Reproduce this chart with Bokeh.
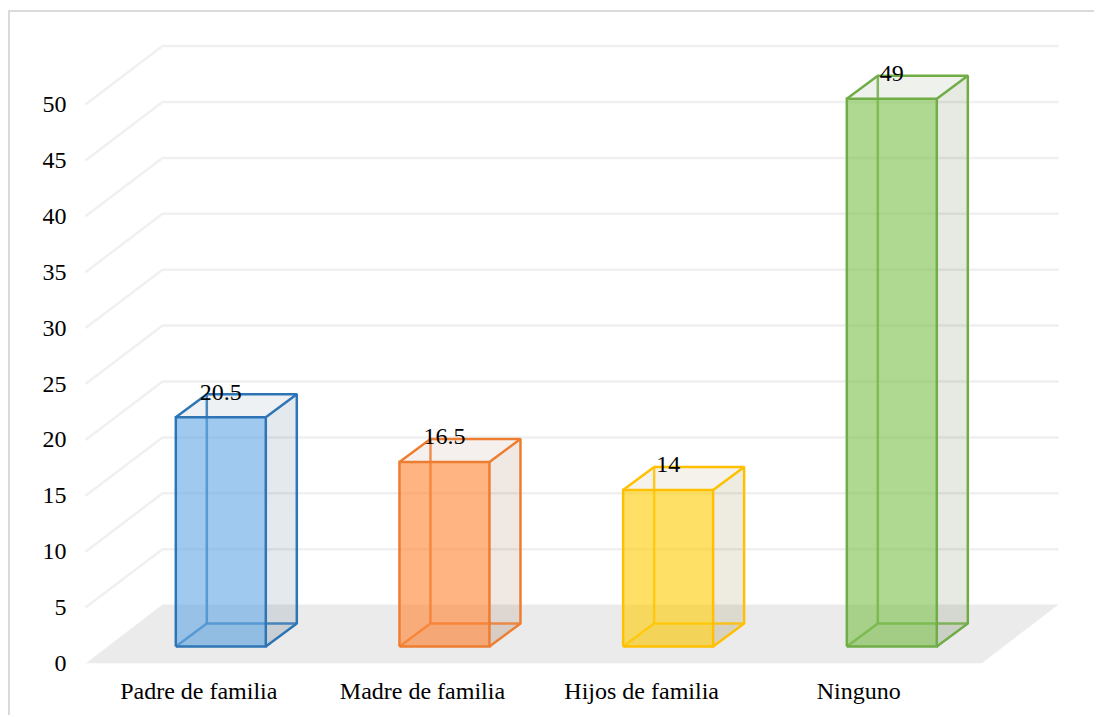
from bokeh.embed import file_html
from bokeh.resources import INLINE
from bokeh.plotting import figure
from bokeh.models import Range1d, FixedTicker, ColumnDataSource
from bokeh.core.properties import value as fixed

categories = ["Padre de familia", "Madre de familia", "Hijos de familia", "Ninguno"]
values = [20.5, 16.5, 14, 49]
value_labels = ["20.5", "16.5", "14", "49"]
label_positions = [0, 1, 1.98, 2.95]
y_ticks = [0, 5, 10, 15, 20, 25, 30, 35, 40, 45, 50]
edge_colors = ["#2E75B6", "#ED7D31", "#FFC000", "#70AD47"]
front_fills = ["#5FA5E3", "#FF822F", "#FFCB00", "#7ABE48"]
side_fills = ["#1E4869", "#823F16", "#715800", "#375016"]

# layout constants (pixels on the page)
PX_X = 223.67
PX_Y = 11.18
X0_PAGE = 198.3
CANVAS_X, CANVAS_Y = 10, 12
FRAME_L, FRAME_R, FRAME_T, FRAME_B = 70, 1096, 20, 663

# 3-D projection in data units
DX = 77 / PX_X          # full floor depth
DY = 59 / PX_Y
GRID_DY = 58.4 / PX_Y
FRONT_DX, FRONT_DY = 22 / PX_X, 17 / PX_Y
BOX_DX, BOX_DY = 31 / PX_X, 23 / PX_Y
BAR_W = 90 / PX_X
FLOOR_L = (85 - X0_PAGE) / PX_X
FLOOR_R = (981 - X0_PAGE) / PX_X

FONT = "Liberation Serif"
EDGE_W = 2.5

p = figure(
    width=1096 - CANVAS_X, height=717 - CANVAS_Y, output_backend="svg", toolbar_location=None,
    x_range=Range1d((FRAME_L - X0_PAGE) / PX_X, (FRAME_R - X0_PAGE) / PX_X),
    y_range=Range1d(0, (FRAME_B - FRAME_T) / PX_Y),
    min_border_left=FRAME_L - CANVAS_X, min_border_right=0,
    min_border_top=FRAME_T - CANVAS_Y, min_border_bottom=717 - FRAME_B,
    outline_line_color=None, background_fill_color="white",
)
p.styles = {"border-left": "2px solid #DADADA", "border-top": "2px solid #DADADA",
            "margin-left": "8px", "margin-top": "10px"}
p.grid.visible = False

# Floor
p.patch([FLOOR_L, FLOOR_L + DX, FLOOR_R + DX, FLOOR_R], [0, DY, DY, 0],
        fill_color="#EBEBEB", line_color=None)

# Gridlines: side wall + back wall
gx, gy = [], []
for t in y_ticks[1:]:
    gx.append([FLOOR_L, FLOOR_L + DX, FLOOR_R + DX])
    gy.append([t, t + GRID_DY, t + GRID_DY])
p.multi_line(gx, gy, line_color="#F0F0F0", line_width=2.5)

# Bars
for i, v in enumerate(values):
    xl = i - BAR_W / 2 + FRONT_DX
    xr = xl + BAR_W
    yb = FRONT_DY
    yt = yb + v
    ec, ff, sf = edge_colors[i], front_fills[i], side_fills[i]
    # right side
    p.patch([xr, xr + BOX_DX, xr + BOX_DX, xr], [yb, yb + BOX_DY, yt + BOX_DY, yt],
            fill_color=sf, fill_alpha=0.12, line_color=None)
    # bottom
    p.patch([xl, xl + BOX_DX, xr + BOX_DX, xr], [yb, yb + BOX_DY, yb + BOX_DY, yb],
            fill_color=sf, fill_alpha=0.06, line_color=None)
    # top
    p.patch([xl, xl + BOX_DX, xr + BOX_DX, xr], [yt, yt + BOX_DY, yt + BOX_DY, yt],
            fill_color=sf, fill_alpha=0.08, line_color=None)
    # back edges
    p.multi_line(
        [[xl, xl + BOX_DX, xr + BOX_DX], [xl + BOX_DX, xl + BOX_DX]],
        [[yb, yb + BOX_DY, yb + BOX_DY], [yb + BOX_DY, yt + BOX_DY]],
        line_color=ec, line_width=EDGE_W, line_alpha=0.85)
    # front face
    p.patch([xl, xr, xr, xl], [yb, yb, yt, yt], fill_color=ff, fill_alpha=0.6, line_color=None)
    # visible edges
    p.line([xl, xr, xr, xl, xl], [yb, yb, yt, yt, yb], line_color=ec, line_width=EDGE_W, line_join="miter")
    p.line([xl, xl + BOX_DX, xr + BOX_DX, xr + BOX_DX, xr],
           [yt, yt + BOX_DY, yt + BOX_DY, yb + BOX_DY, yb], line_color=ec, line_width=EDGE_W)
    p.line([xr, xr + BOX_DX], [yt, yt + BOX_DY], line_color=ec, line_width=EDGE_W)

# Data labels
src = ColumnDataSource(dict(
    x=[i + FRONT_DX for i in range(4)],
    y=[v + FRONT_DY + BOX_DY + 0.2 for v in values],
    t=value_labels))
p.text("x", "y", text="t", source=src, text_align="center", text_baseline="middle",
       text_font=fixed(FONT), text_font_size="24px", text_color="black")

# Axes
ax = p.yaxis[0]
ax.ticker = FixedTicker(ticks=y_ticks)
ax.axis_line_color = None
ax.major_tick_line_color = None
ax.minor_tick_line_color = None
ax.major_tick_out = 0
ax.major_label_standoff = 4
ax.major_label_text_font = FONT
ax.major_label_text_font_size = "24px"
ax.major_label_text_color = "black"

bx = p.xaxis[0]
bx.ticker = FixedTicker(ticks=label_positions)
bx.major_label_overrides = dict(zip(label_positions, categories))
bx.axis_line_color = None
bx.major_tick_line_color = None
bx.minor_tick_line_color = None
bx.major_tick_out = 0
bx.major_label_standoff = 14
bx.major_label_text_font = FONT
bx.major_label_text_font_size = "24px"
bx.major_label_text_color = "black"

open("out.html", "w").write(file_html(p, INLINE))
